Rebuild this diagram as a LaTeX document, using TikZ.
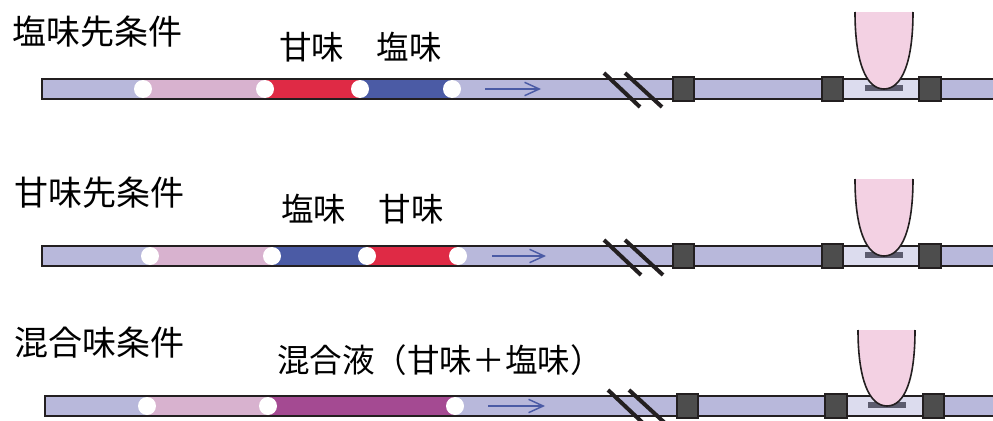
\documentclass[tikz,border=0pt]{standalone}
\usepackage{fontspec}
\setmainfont{Noto Sans CJK JP}
\usetikzlibrary{arrows.meta}

\definecolor{tubefill}{HTML}{B8B8DB}
\definecolor{lanefill}{HTML}{DCDCEE}
\definecolor{prefill}{HTML}{D8B2CF}
\definecolor{sweetred}{HTML}{DF2A45}
\definecolor{saltblue}{HTML}{4B5BA5}
\definecolor{mixpurple}{HTML}{A44A92}
\definecolor{tippink}{HTML}{F3D1E3}
\definecolor{clampgray}{HTML}{4D4D4D}
\definecolor{padgray}{HTML}{5C5C6E}
\definecolor{edge}{HTML}{231F20}

\tikzset{
  cond/.style={anchor=base west,inner sep=0pt,font=\fontsize{25.5pt}{30pt}\selectfont},
  tag/.style={anchor=base west,inner sep=0pt,font=\fontsize{24.4pt}{29pt}\selectfont},
  tube/.style={draw=edge,line width=1.2pt},
  bubble/.style={circle,fill=white,inner sep=0pt,minimum size=13.5pt},
  flow/.style={draw=saltblue,line width=1.1pt,-{Straight Barb[length=11pt,width=10pt]}},
  cut/.style={draw=edge,line width=3pt},
  clamp/.style={fill=clampgray,draw=edge,line width=1.1pt},
  probe/.style={fill=tippink,draw=edge,line width=1.2pt}
}

\begin{document}
\begin{tikzpicture}[x=0.75pt,y=-0.75pt]
	\useasboundingbox (0,0) rectangle (993,421);

	% salt first
	\node[cond] (cond1) at (12,45) {塩味先条件};
	\node[tag] (tag1) at (279,60) {甘味　塩味};
	\fill[tubefill] (42,79) rectangle (993,99);
	\fill[prefill] (143,79) rectangle (265,99);
	\fill[sweetred] (265,79) rectangle (360,99);
	\fill[saltblue] (360,79) rectangle (452,99);
	\fill[lanefill] (843,79) rectangle (919,99);
	\draw[tube] (993,79) -| (42,99) -- (993,99);
	\node[bubble] (b11) at (143,89) {};
	\node[bubble] (b12) at (265,89) {};
	\node[bubble] (b13) at (360,89) {};
	\node[bubble] (b14) at (452,89) {};
	\coordinate (f1s) at (485,89);
	\coordinate (f1e) at (541,89);
	\draw[flow] (f1s) -- (f1e);
	\draw[cut] (604,73) -- (640,107);
	\draw[cut] (625,73) -- (662,107);
	\draw[clamp] (673,77) rectangle (694,101);
	\draw[clamp] (822,77) rectangle (843,101);
	\draw[clamp] (919,77) rectangle (941,101);
	\fill[padgray] (865,85) rectangle (903,91);
	\draw[probe] (855,12) .. controls (855,62) and (866,89) .. (884,89) .. controls (902,89) and (913,62) .. (913,12);

	% sweet first
	\node[cond] (cond2) at (14,205) {甘味先条件};
	\node[tag] (tag2) at (281,221) {塩味　甘味};
	\fill[tubefill] (42,246) rectangle (993,266);
	\fill[prefill] (150,246) rectangle (272,266);
	\fill[saltblue] (272,246) rectangle (367,266);
	\fill[sweetred] (367,246) rectangle (458,266);
	\fill[lanefill] (843,246) rectangle (919,266);
	\draw[tube] (993,246) -| (42,266) -- (993,266);
	\node[bubble] (b21) at (150,256) {};
	\node[bubble] (b22) at (272,256) {};
	\node[bubble] (b23) at (367,256) {};
	\node[bubble] (b24) at (458,256) {};
	\coordinate (f2s) at (492,256);
	\coordinate (f2e) at (546,256);
	\draw[flow] (f2s) -- (f2e);
	\draw[cut] (604,240) -- (641,275);
	\draw[cut] (625,240) -- (663,275);
	\draw[clamp] (673,244) rectangle (694,268);
	\draw[clamp] (822,244) rectangle (843,268);
	\draw[clamp] (919,244) rectangle (941,268);
	\fill[padgray] (865,252) rectangle (903,258);
	\draw[probe] (855,179) .. controls (855,229) and (866,256) .. (884,256) .. controls (902,256) and (913,229) .. (913,179);

	% mixed
	\node[cond] (cond3) at (14,355) {混合味条件};
	\node[tag] (tag3) at (277,372) {混合液（甘味＋塩味）};
	\fill[tubefill] (45,396) rectangle (993,416);
	\fill[prefill] (147,396) rectangle (268,416);
	\fill[mixpurple] (268,396) rectangle (455,416);
	\fill[lanefill] (847,396) rectangle (923,416);
	\draw[tube] (993,396) -| (45,416) -- (993,416);
	\node[bubble] (b31) at (147,406) {};
	\node[bubble] (b32) at (268,406) {};
	\node[bubble] (b33) at (455,406) {};
	\coordinate (f3s) at (488,406);
	\coordinate (f3e) at (545,406);
	\draw[flow] (f3s) -- (f3e);
	\draw[cut] (608,390) -- (644,424);
	\draw[cut] (629,390) -- (666,424);
	\draw[clamp] (677,394) rectangle (698,418);
	\draw[clamp] (825,394) rectangle (847,418);
	\draw[clamp] (923,394) rectangle (944,418);
	\fill[padgray] (868,402) rectangle (906,408);
	\draw[probe] (858,330) .. controls (858,379) and (869,406) .. (887,406) .. controls (905,406) and (915,379) .. (915,330);
\end{tikzpicture}
\end{document}
